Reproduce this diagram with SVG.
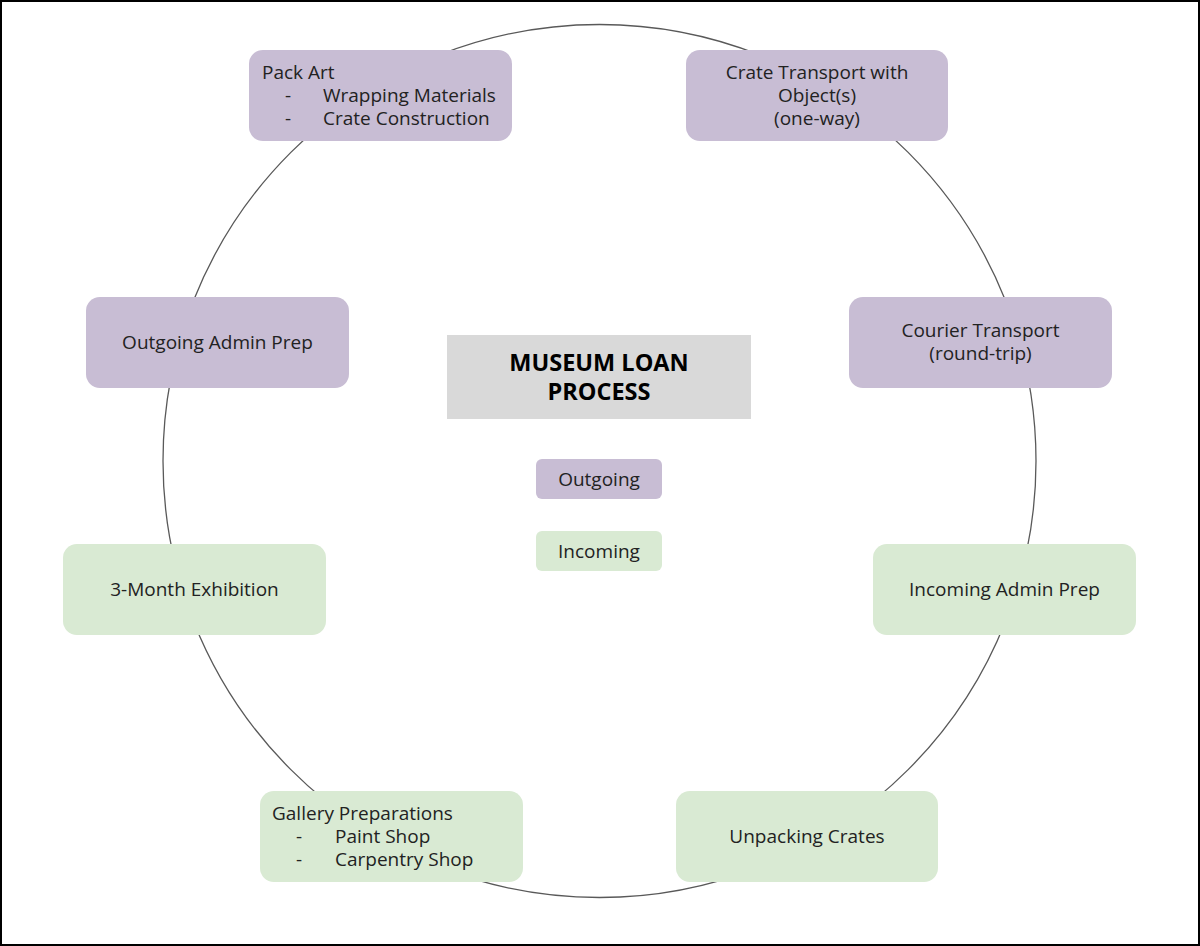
<svg xmlns="http://www.w3.org/2000/svg" width="1200" height="946" viewBox="0 0 1200 946">
<style>
.out{fill:#c8bdd4}
.inc{fill:#d9ead3}
text{font-family:"Open Sans",Lato,sans-serif;font-size:19px;fill:#222}
.c{text-anchor:middle}
.t{font-weight:bold;font-size:23.5px;fill:#000}
</style>
<rect x="1" y="1" width="1198" height="944" fill="#fff" stroke="#000" stroke-width="2"/>
<g id="connectors">
<circle cx="599.5" cy="461" r="436.5" fill="none" stroke="#595959" stroke-width="1.3"/>
</g>
<g id="pack-art">
<rect class="out" x="249" y="50" width="263" height="91" rx="14"/>
<text x="262" y="79">Pack Art<tspan x="285" y="102">-</tspan><tspan x="323" y="102">Wrapping Materials</tspan><tspan x="285" y="125">-</tspan><tspan x="323" y="125">Crate Construction</tspan></text>
</g>
<g id="crate-transport">
<rect class="out" x="686" y="50" width="262" height="91" rx="14"/>
<text class="c" x="817" y="79">Crate Transport with<tspan x="817" y="102">Object(s)</tspan><tspan x="817" y="125">(one-way)</tspan></text>
</g>
<g id="outgoing-admin">
<rect class="out" x="86" y="297" width="263" height="91" rx="14"/>
<text class="c" x="217.5" y="349">Outgoing Admin Prep</text>
</g>
<g id="courier">
<rect class="out" x="849" y="297" width="263" height="91" rx="14"/>
<text class="c" x="980.5" y="337">Courier Transport<tspan x="980.5" y="360">(round-trip)</tspan></text>
</g>
<g id="exhibition">
<rect class="inc" x="63" y="544" width="263" height="91" rx="14"/>
<text class="c" x="194.5" y="596">3-Month Exhibition</text>
</g>
<g id="incoming-admin">
<rect class="inc" x="873" y="544" width="263" height="91" rx="14"/>
<text class="c" x="1004.5" y="596">Incoming Admin Prep</text>
</g>
<g id="gallery">
<rect class="inc" x="260" y="791" width="263" height="91" rx="14"/>
<text x="272" y="820">Gallery Preparations<tspan x="296" y="843">-</tspan><tspan x="335" y="843">Paint Shop</tspan><tspan x="296" y="866">-</tspan><tspan x="335" y="866">Carpentry Shop</tspan></text>
</g>
<g id="unpacking">
<rect class="inc" x="676" y="791" width="262" height="91" rx="14"/>
<text class="c" x="807" y="843">Unpacking Crates</text>
</g>
<g id="title">
<rect x="447" y="335" width="304" height="84" fill="#d9d9d9"/>
<text class="c t" x="599" y="371">MUSEUM LOAN<tspan x="599" y="400">PROCESS</tspan></text>
</g>
<g id="legend-outgoing">
<rect class="out" x="536" y="459" width="126" height="40" rx="6"/>
<text class="c" x="599" y="486">Outgoing</text>
</g>
<g id="legend-incoming">
<rect class="inc" x="536" y="531" width="126" height="40" rx="6"/>
<text class="c" x="599" y="558">Incoming</text>
</g>
</svg>
